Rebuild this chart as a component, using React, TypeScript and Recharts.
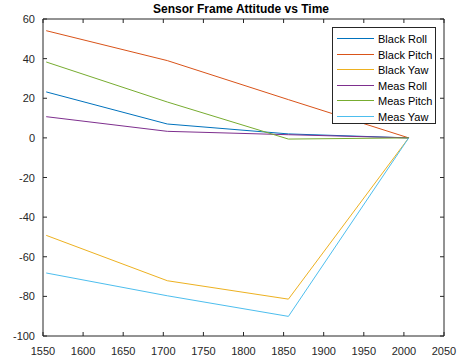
import React from 'react';
import { LineChart, Line, XAxis, YAxis, ReferenceLine } from 'recharts';

const times = [1554, 1705, 1856, 2006];
const blackRoll = [23.2, 7, 2, 0];
const blackPitch = [54.1, 39, 19.3, 0];
const blackYaw = [-49.2, -72.1, -81.4, 0];
const measRoll = [10.7, 3.3, 1.6, 0];
const measPitch = [38.3, 18.1, -0.6, 0];
const measYaw = [-68.2, -79.7, -90.1, 0];

const xTicks = [1550, 1600, 1650, 1700, 1750, 1800, 1850, 1900, 1950, 2000, 2050];
const yTicks = [-100, -80, -60, -40, -20, 0, 20, 40, 60];

const series = [
    { key: 'blackRoll', name: 'Black Roll', color: '#0072BD', values: blackRoll },
    { key: 'blackPitch', name: 'Black Pitch', color: '#D95319', values: blackPitch },
    { key: 'blackYaw', name: 'Black Yaw', color: '#EDB120', values: blackYaw },
    { key: 'measRoll', name: 'Meas Roll', color: '#7E2F8E', values: measRoll },
    { key: 'measPitch', name: 'Meas Pitch', color: '#77AC30', values: measPitch },
    { key: 'measYaw', name: 'Meas Yaw', color: '#4DBEEE', values: measYaw },
];

const data = times.map((t, i) => {
    const row: Record<string, number> = { t };
    series.forEach((s) => {
        row[s.key] = s.values[i];
    });
    return row;
});

const font = 'Arial, "Liberation Sans", Helvetica, sans-serif';
const axisColor = '#262626';

// plot box edges (from chart margins)
const W = 461;
const H = 364;
const M = { top: 19, right: 17, left: 0, bottom: 0 };
const Y_AXIS_W = 43;
const X_AXIS_H = 28;
const plotTop = M.top;
const plotRight = W - M.right;
const X_GAP = 11;
const Y_GAP = 8;
const TICK = 4;

function XTick(props: any) {
    const { x, y, payload } = props;
    const axisY = y - X_GAP;
    return (
        <g>
            <line x1={x} x2={x} y1={axisY} y2={axisY - TICK} stroke={axisColor} />
            <line x1={x} x2={x} y1={plotTop} y2={plotTop + TICK} stroke={axisColor} />
            <text x={x} y={y} dy={8} textAnchor="middle" fill={axisColor} fontSize={11} fontFamily={font}>
                {payload.value}
            </text>
        </g>
    );
}

function YTick(props: any) {
    const { x, y, payload } = props;
    const axisX = x + Y_GAP;
    return (
        <g>
            <line x1={axisX} x2={axisX + TICK} y1={y} y2={y} stroke={axisColor} />
            <line x1={plotRight} x2={plotRight - TICK} y1={y} y2={y} stroke={axisColor} />
            <text x={x} y={y} dy={4} textAnchor="end" fill={axisColor} fontSize={11} fontFamily={font}>
                {payload.value}
            </text>
        </g>
    );
}

export default function App() {
    return (
        <div style={{ position: 'absolute', left: 0, top: 0, width: W, height: H, background: '#fff' }}>
            <div
                style={{
                    position: 'absolute',
                    left: 0,
                    top: 2,
                    width: 482,
                    textAlign: 'center',
                    fontFamily: font,
                    fontWeight: 'bold',
                    fontSize: 12,
                    lineHeight: '14px',
                    color: '#000',
                }}
            >
                Sensor Frame Attitude vs Time
            </div>
            <LineChart width={W} height={H} data={data} margin={M}>
                <XAxis
                    dataKey="t"
                    type="number"
                    domain={[1550, 2050]}
                    ticks={xTicks}
                    interval={0}
                    height={X_AXIS_H}
                    tickSize={0}
                    tickLine={false}
                    tickMargin={X_GAP}
                    tick={<XTick />}
                    stroke={axisColor}
                    allowDataOverflow
                />
                <YAxis
                    type="number"
                    domain={[-100, 60]}
                    ticks={yTicks}
                    interval={0}
                    width={Y_AXIS_W}
                    tickSize={0}
                    tickLine={false}
                    tickMargin={Y_GAP}
                    tick={<YTick />}
                    stroke={axisColor}
                    allowDataOverflow
                />
                <ReferenceLine y={60} stroke={axisColor} ifOverflow="visible" />
                <ReferenceLine x={2050} stroke={axisColor} ifOverflow="visible" />
                {series.map((s) => (
                    <Line
                        key={s.key}
                        type="linear"
                        dataKey={s.key}
                        name={s.name}
                        stroke={s.color}
                        strokeWidth={1}
                        dot={false}
                        activeDot={false}
                        isAnimationActive={false}
                    />
                ))}
            </LineChart>
            <div
                style={{
                    position: 'absolute',
                    left: 332,
                    top: 27,
                    width: 102,
                    height: 95,
                    border: '1px solid #262626',
                    background: '#fff',
                    fontFamily: font,
                    fontSize: 11,
                    color: '#000',
                }}
            >
                {series.map((s, i) => (
                    <div
                        key={s.key}
                        style={{
                            position: 'absolute',
                            left: 4,
                            top: Math.round(3 + i * 15.5),
                            height: 15,
                            display: 'flex',
                            alignItems: 'center',
                            whiteSpace: 'nowrap',
                        }}
                    >
                        <span style={{ display: 'inline-block', width: 37, height: 1, background: s.color, marginRight: 4 }} />
                        <span>{s.name}</span>
                    </div>
                ))}
            </div>
        </div>
    );
}
